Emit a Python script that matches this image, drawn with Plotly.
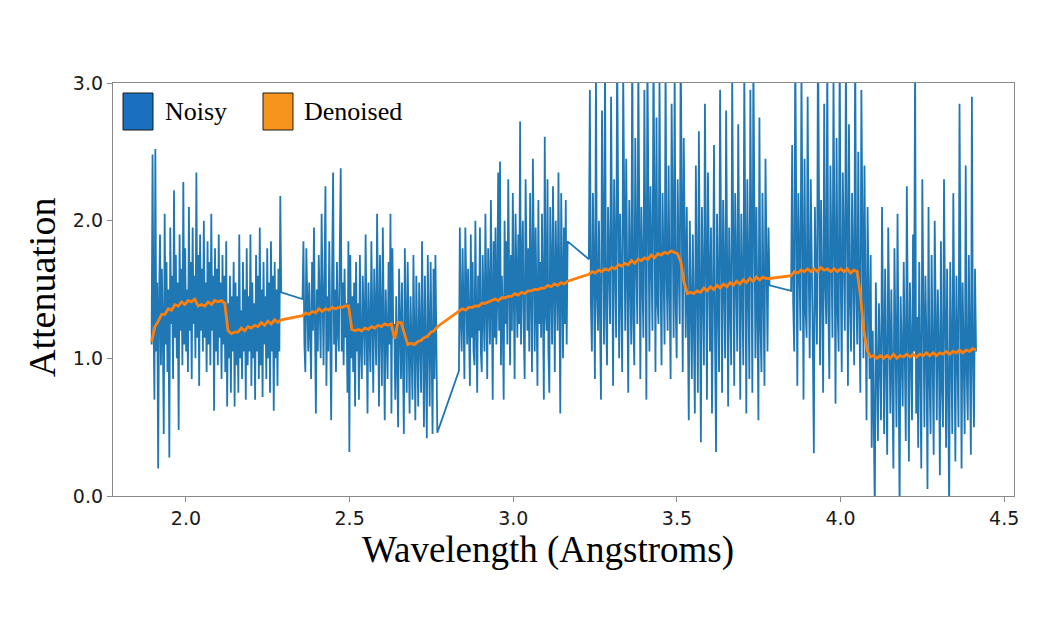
import numpy as np
import plotly.graph_objects as go

# Segment wavelength bounds (Angstroms)
seg_bounds = [(1.895, 2.291), (2.356, 2.768), (2.834, 3.166), (3.231, 3.783), (3.849, 4.414)]

# Noisy attenuation values per segment
noisy_1 = [1.10, 2.48, 1.30, 0.70, 2.52, 1.05, 1.55, 0.20, 1.40, 1.90,
           0.95, 1.65, 1.20, 0.45, 2.05, 1.10, 1.70, 0.90, 1.50, 0.28,
           1.95, 1.25, 1.60, 0.85, 2.22, 1.15, 1.75, 1.00, 1.55, 0.48,
           1.90, 1.20, 1.65, 0.95, 2.28, 1.10, 1.80, 1.05, 1.50, 0.90,
           2.10, 1.20, 1.70, 0.85, 1.95, 1.25, 1.60, 1.00, 2.35, 1.15,
           1.75, 0.80, 1.90, 1.20, 1.65, 1.05, 2.00, 1.15, 1.55, 0.90,
           1.85, 1.10, 1.70, 0.95, 2.05, 1.20, 1.60, 0.62, 1.80, 1.05,
           1.65, 0.95, 1.90, 1.15, 1.55, 0.85, 1.75, 1.10, 1.60, 0.90,
           1.85, 0.65, 1.40, 1.00, 1.60, 0.75, 1.45, 1.05, 1.70, 0.65,
           1.55, 0.95, 1.45, 0.75, 1.90, 1.00, 1.35, 0.85, 1.70, 1.05,
           1.50, 0.70, 1.80, 0.95, 1.45, 1.05, 1.90, 0.80, 1.55, 1.00,
           1.40, 0.70, 1.75, 1.05, 1.60, 0.85, 1.95, 0.95, 1.50, 0.72,
           1.70, 1.10, 1.45, 0.85, 1.80, 1.00, 1.55, 0.75, 1.85, 1.05,
           1.60, 0.62, 1.70, 1.00, 1.50, 0.80, 1.65, 1.05, 2.18, 1.48]
noisy_2 = [1.43, 1.85, 1.10, 0.90, 1.80, 1.25, 1.05, 1.55, 1.15, 0.85,
           1.70, 1.20, 1.95, 1.10, 0.60, 1.50, 1.05, 1.75, 1.25, 1.00,
           2.05, 1.15, 0.95, 1.60, 2.25, 0.80, 1.45, 1.05, 1.85, 1.20,
           0.55, 1.65, 2.35, 1.10, 1.50, 0.90, 1.70, 1.20, 1.05, 1.80,
           2.38, 1.05, 1.55, 0.95, 1.65, 1.15, 1.40, 0.75, 1.85, 0.32,
           1.75, 1.00, 1.45, 0.90, 1.55, 0.65, 1.70, 1.05, 1.40, 0.70,
           1.75, 1.10, 0.85, 1.60, 1.20, 0.95, 1.90, 1.05, 0.60, 1.55,
           1.15, 0.90, 1.85, 1.05, 0.75, 1.65, 1.20, 0.95, 2.05, 1.10,
           0.65, 1.75, 1.00, 0.80, 1.95, 1.15, 0.55, 1.50, 1.05, 0.85,
           1.70, 1.10, 2.05, 0.60, 1.80, 1.15, 1.25, 0.70, 1.45, 1.05,
           0.50, 1.65, 1.00, 0.85, 1.55, 1.10, 0.45, 1.80, 0.95, 0.75,
           1.70, 1.05, 0.60, 1.45, 1.00, 0.70, 1.75, 1.10, 0.55, 1.60,
           0.95, 0.65, 1.55, 1.15, 0.75, 1.85, 1.00, 0.50, 1.60, 1.05,
           0.42, 1.75, 1.10, 0.65, 1.70, 1.00, 0.45, 1.65, 0.85, 1.75,
           0.90, 0.46]
noisy_3 = [0.91, 1.95, 1.30, 1.05, 1.80, 1.20, 0.85, 1.95, 1.35, 1.10,
           1.65, 1.25, 0.80, 1.90, 1.15, 1.70, 1.05, 0.95, 2.00, 1.30,
           0.75, 1.60, 1.20, 1.95, 1.05, 0.90, 1.75, 1.35, 1.05, 2.05,
           1.20, 0.85, 1.80, 1.40, 1.10, 2.15, 1.25, 0.70, 1.85, 1.15,
           1.95, 1.10, 1.45, 2.35, 1.20, 2.43, 0.95, 1.60, 1.30, 0.70,
           2.00, 1.25, 1.85, 1.10, 2.30, 1.35, 0.95, 1.75, 1.20, 2.20,
           1.40, 0.85, 2.05, 1.30, 1.15, 1.90, 1.25, 2.72, 1.10, 1.65,
           2.00, 1.20, 0.85, 2.30, 1.45, 1.20, 1.80, 1.05, 2.20, 1.35,
           0.90, 2.45, 1.30, 1.05, 1.95, 1.50, 0.80, 2.15, 1.25, 1.70,
           1.15, 2.05, 1.40, 0.70, 2.61, 1.35, 1.20, 2.30, 1.05, 0.75,
           2.10, 1.45, 1.10, 2.25, 1.30, 0.90, 2.00, 1.50, 1.20, 2.35,
           1.35, 0.60, 2.20, 1.40, 1.00, 1.95, 1.25, 2.15, 1.10, 1.85]
noisy_4 = [1.72, 2.95, 1.40, 1.05, 2.20, 1.60, 0.85, 3.10, 1.45, 1.20,
           2.00, 1.30, 0.70, 2.80, 1.55, 1.10, 3.20, 1.35, 0.95, 2.10,
           1.70, 1.25, 2.90, 1.40, 0.80, 2.30, 1.65, 1.15, 3.30, 1.50,
           1.00, 2.05, 1.35, 0.90, 3.10, 1.60, 1.20, 2.45, 1.40, 0.75,
           2.15, 1.55, 1.10, 3.40, 1.30, 0.95, 2.60, 1.70, 1.25, 3.15,
           1.45, 0.85, 2.10, 1.60, 1.15, 2.95, 1.35, 0.70, 3.25, 1.55,
           1.05, 2.25, 1.75, 1.20, 3.30, 1.50, 0.90, 2.75, 1.40, 1.25,
           3.05, 1.65, 0.95, 2.20, 1.45, 1.10, 3.20, 1.60, 1.20, 2.40,
           1.50, 0.85, 2.85, 1.70, 1.15, 3.10, 1.40, 1.00, 2.30, 1.65,
           1.25, 3.35, 1.55, 0.90, 2.60, 1.45, 1.15, 2.10, 1.30, 0.55,
           2.00, 1.20, 0.85, 1.90, 1.05, 0.60, 2.40, 1.35, 0.75, 2.65,
           1.10, 0.39, 2.10, 1.30, 0.95, 2.85, 1.20, 0.70, 2.35, 1.45,
           1.05, 1.95, 0.60, 1.40, 2.55, 1.15, 0.32, 2.05, 1.30, 0.90,
           2.95, 1.25, 0.75, 2.15, 1.50, 1.00, 2.80, 1.20, 0.65, 1.95,
           1.35, 0.95, 3.05, 1.40, 0.80, 2.20, 1.55, 1.05, 2.70, 1.25,
           0.70, 2.05, 1.45, 0.95, 3.10, 1.30, 0.60, 2.30, 1.50, 0.85,
           2.95, 1.35, 0.75, 3.20, 1.60, 1.00, 2.10, 1.40, 0.55, 2.75,
           1.25, 0.90, 2.20, 1.50, 0.80, 2.45, 1.35, 1.05, 1.95, 1.53]
noisy_5 = [1.49, 2.55, 1.40, 1.05, 3.30, 1.60, 0.80, 2.20, 1.45, 1.20,
           3.10, 1.55, 0.70, 2.45, 1.35, 1.15, 2.90, 1.65, 1.00, 2.30,
           1.40, 1.10, 0.31, 2.10, 1.50, 1.10, 3.40, 1.60, 0.95, 2.15,
           1.45, 0.75, 2.85, 1.55, 1.25, 3.20, 1.40, 0.85, 2.40, 1.70,
           1.15, 3.05, 1.50, 0.67, 2.60, 1.35, 1.05, 3.30, 1.60, 0.90,
           2.35, 1.45, 1.20, 3.15, 1.55, 0.80, 2.70, 1.40, 1.05, 2.20,
           1.65, 0.95, 3.35, 1.50, 1.10, 2.50, 1.35, 0.75, 2.95, 1.60,
           1.00, 2.40, 1.45, 0.55, 2.10, 1.30, 0.85, 1.75, 0.35, 1.20,
           0.60, -0.10, 1.55, 1.00, 0.40, 1.40, 0.75, 0.55, 2.10, 1.05,
           0.45, 1.65, 0.85, 0.30, 1.95, 1.00, 0.60, 1.50, 0.90, 0.20,
           1.80, 1.10, 0.50, 2.05, 0.95, -0.10, 1.45, 1.05, 0.65, 1.70,
           0.80, 0.40, 2.25, 1.15, 0.25, 1.55, 0.95, 0.55, 1.90, 1.05,
           3.20, 0.60, 1.30, 0.35, 1.70, 1.00, 0.20, 2.30, 0.90, 0.50,
           1.60, 1.10, 0.05, 2.10, 0.85, 0.45, 1.75, 1.05, 0.30, 2.00,
           0.95, 0.55, 1.50, 1.10, 0.15, 1.85, 0.80, 0.50, 2.30, 1.00,
           0.35, 1.65, 0.90, -0.10, 1.70, 1.05, 0.45, 2.20, 0.85, 0.25,
           1.60, 1.05, 0.50, 2.85, 0.95, 0.20, 1.55, 1.10, 0.45, 2.40,
           0.90, 0.55, 1.75, 1.05, 0.30, 2.90, 0.95, 0.50, 1.65, 1.05]

# Denoised attenuation values per segment
den_1 = [1.12, 1.23, 1.27, 1.32, 1.32, 1.36, 1.35, 1.39, 1.38, 1.41,
         1.39, 1.42, 1.41, 1.43, 1.38, 1.39, 1.38, 1.41, 1.39, 1.42,
         1.41, 1.42, 1.40, 1.20, 1.18, 1.19, 1.19, 1.22, 1.20, 1.23,
         1.22, 1.24, 1.23, 1.26, 1.24, 1.27, 1.25, 1.28, 1.26, 1.28]
den_2 = [1.31, 1.33, 1.32, 1.34, 1.33, 1.36, 1.34, 1.36, 1.35, 1.37,
         1.36, 1.37, 1.37, 1.38, 1.38, 1.21, 1.20, 1.21, 1.20, 1.22,
         1.21, 1.23, 1.22, 1.24, 1.23, 1.25, 1.24, 1.25, 1.14, 1.26,
         1.26, 1.18, 1.10, 1.11, 1.10, 1.12, 1.13, 1.15, 1.16, 1.19,
         1.20, 1.23]
den_3 = [1.34, 1.36, 1.35, 1.37, 1.37, 1.38, 1.38, 1.40, 1.40, 1.41,
         1.42, 1.43, 1.42, 1.44, 1.44, 1.45, 1.45, 1.47, 1.46, 1.48,
         1.47, 1.49, 1.49, 1.50, 1.50, 1.51, 1.51, 1.53, 1.52, 1.54,
         1.53, 1.55, 1.54, 1.56]
den_4 = [1.61, 1.63, 1.62, 1.64, 1.63, 1.65, 1.64, 1.66, 1.65, 1.68,
         1.67, 1.69, 1.68, 1.71, 1.69, 1.72, 1.71, 1.73, 1.72, 1.75,
         1.73, 1.76, 1.75, 1.77, 1.76, 1.78, 1.77, 1.76, 1.70, 1.55,
         1.47, 1.48, 1.47, 1.49, 1.48, 1.51, 1.49, 1.52, 1.50, 1.53,
         1.51, 1.54, 1.52, 1.55, 1.53, 1.56, 1.54, 1.57, 1.55, 1.58,
         1.56, 1.59, 1.57, 1.59, 1.58, 1.58]
den_5 = [1.60, 1.63, 1.62, 1.64, 1.63, 1.65, 1.63, 1.65, 1.63, 1.66,
         1.64, 1.65, 1.63, 1.65, 1.63, 1.65, 1.63, 1.65, 1.62, 1.64,
         1.63, 1.45, 1.20, 1.06, 1.01, 1.02, 1.00, 1.02, 1.00, 1.02,
         1.00, 1.03, 1.00, 1.02, 1.01, 1.03, 1.01, 1.03, 1.01, 1.03,
         1.02, 1.04, 1.02, 1.04, 1.02, 1.04, 1.03, 1.05, 1.03, 1.05,
         1.04, 1.06, 1.04, 1.06, 1.05, 1.07, 1.06]

noisy_segments = [noisy_1, noisy_2, noisy_3, noisy_4, noisy_5]
denoised_segments = [den_1, den_2, den_3, den_4, den_5]

x_ticks = [2.0, 2.5, 3.0, 3.5, 4.0, 4.5]
y_ticks = [0.0, 1.0, 2.0, 3.0]

def build(segments):
    xs, ys = [], []
    for (a, b), vals in zip(seg_bounds, segments):
        xs.extend(np.linspace(a, b, len(vals)).tolist())
        ys.extend(vals)
    return xs, ys

nx, ny = build(noisy_segments)
dx, dy = build(denoised_segments)

fig = go.Figure()
fig.add_trace(go.Scatter(x=nx, y=ny, mode="lines", name="Noisy",
                         line=dict(color="#1f77b4", width=1.8), showlegend=False))
fig.add_trace(go.Scatter(x=dx, y=dy, mode="lines", name="Denoised",
                         line=dict(color="#ff7f0e", width=2.8), showlegend=False))

W, H = 1056, 624
L, R, T, B = 113, 42, 83, 128
pw, ph = W - L - R, H - T - B

def px(x):
    return (x - L) / pw

def py(y):
    return (H - B - y) / ph

# Legend patches
fig.add_shape(type="rect", xref="paper", yref="paper",
              x0=px(123), x1=px(153), y0=py(130), y1=py(93),
              fillcolor="#1a70c0", line=dict(color="#1a1a1a", width=1))
fig.add_shape(type="rect", xref="paper", yref="paper",
              x0=px(263), x1=px(293), y0=py(130), y1=py(93),
              fillcolor="#f7941d", line=dict(color="#1a1a1a", width=1))
serif = "Liberation Serif, Times New Roman, serif"
fig.add_annotation(x=px(163), y=py(112), xref="paper", yref="paper", text="Noisy",
                   showarrow=False, xanchor="left", yanchor="middle",
                   font=dict(family=serif, size=26, color="black"))
fig.add_annotation(x=px(302), y=py(112), xref="paper", yref="paper", text="Denoised",
                   showarrow=False, xanchor="left", yanchor="middle",
                   font=dict(family=serif, size=26, color="black"))
# Axis titles
fig.add_annotation(x=px(42), y=py(288), xref="paper", yref="paper", text="Attenuation",
                   showarrow=False, textangle=-90, xanchor="center", yanchor="middle",
                   font=dict(family=serif, size=38, color="black"))
fig.add_annotation(x=px(548), y=py(550), xref="paper", yref="paper",
                   text="Wavelength (Angstroms)", showarrow=False,
                   xanchor="center", yanchor="middle",
                   font=dict(family=serif, size=37, color="black"))

axis_common = dict(showgrid=False, zeroline=False, showline=True, mirror=True,
                   linecolor="#8a8a8a", linewidth=1.3, ticks="outside",
                   ticklen=5, tickcolor="#8a8a8a", tickwidth=1,
                   tickfont=dict(family="DejaVu Sans", size=19, color="#1a1a1a"))
fig.update_xaxes(range=[1.777, 4.530], tickvals=x_ticks,
                 ticktext=[f"{v:.1f}" for v in x_ticks], **axis_common)
fig.update_yaxes(range=[0, 3], tickvals=y_ticks,
                 ticktext=[f"{v:.1f}" for v in y_ticks], **axis_common)

fig.update_layout(width=W, height=H, margin=dict(l=L, r=R, t=T, b=B),
                  plot_bgcolor="white", paper_bgcolor="white")

fig.write_html("out.html")
